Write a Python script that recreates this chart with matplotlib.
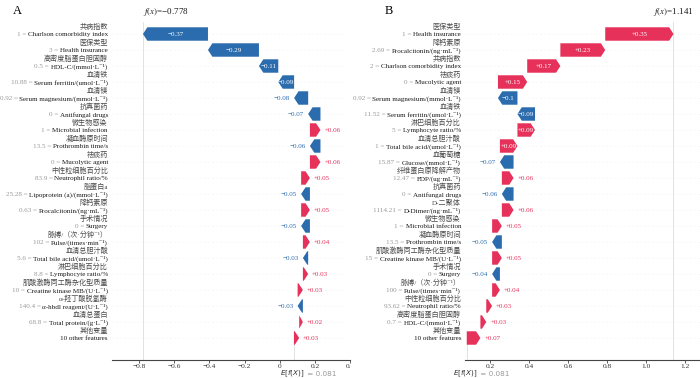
import matplotlib
matplotlib.use("Agg")
import matplotlib.pyplot as plt
from matplotlib.transforms import Bbox, TransformedBbox

# expected value shared by both panels
base_value = 0.081

# panel A (top row first)
a_cn = ["共病指数", "医保类型", "高密度脂蛋白胆固醇", "血清铁", "血清镁", "抗真菌药",
        "微生物感染", "凝血酶原时间", "祛痰药", "中性粒细胞百分比", "脂蛋白a", "降钙素原",
        "手术情况", "脉搏/（次·分钟⁻¹）", "血清总胆汁酸", "淋巴细胞百分比",
        "肌酸激酶同工酶杂化型质量", "α-羟丁酸脱氢酶", "血清总蛋白", "其他变量"]
a_en = ["Charlson comorbidity index", "Health insurance", "HDL-C/(mmol·L⁻¹)",
        "Serum ferritin/(umol·L⁻¹)", "Serum magnesium/(mmol·L⁻¹)", "Antifungal drugs",
        "Microbial infection", "Prothrombin time/s", "Mucolytic agent", "Neutrophil ratio/%",
        "Lipoprotein (a)/(mmol·L⁻¹)", "Procalcitonin/(ng·mL⁻¹)", "Surgery",
        "Pulse/(times·min⁻¹)", "Total bile acid/(umol·L⁻¹)", "Lymphocyte ratio/%",
        "Creatine kinase MB/(U·L⁻¹)", "α-hbdl reagent/(U·L⁻¹)", "Total protein/(g·L⁻¹)",
        "10 other features"]
a_feat = ["1", "3", "0.5", "10.88", "0.92", "0", "1", "13.5", "0", "83.9", "25.28", "0.63",
          "0", "102", "5.6", "8.8", "10", "140.4", "68.8", ""]
a_shap = [-0.37, -0.29, -0.11, -0.09, -0.08, -0.07, 0.06, -0.06, 0.06, 0.05, -0.05, 0.05,
          -0.05, 0.04, -0.03, 0.03, 0.03, -0.03, 0.021, 0.03]
a_ticks = [-0.8, -0.6, -0.4, -0.2, 0, 0.2, 0.4]

# panel B (top row first)
b_cn = ["医保类型", "降钙素原", "共病指数", "祛痰药", "血清镁", "血清铁", "淋巴细胞百分比",
        "血清总胆汁酸", "血葡萄糖", "纤维蛋白原降解产物", "抗真菌药", "D-二聚体", "微生物感染",
        "凝血酶原时间", "肌酸激酶同工酶杂化型质量", "手术情况", "脉搏/（次·分钟⁻¹）",
        "中性粒细胞百分比", "高密度脂蛋白胆固醇", "其他变量"]
b_en = ["Health insurance", "Procalcitonin/(ng·mL⁻¹)", "Charlson comorbidity index",
        "Mucolytic agent", "Serum magnesium/(mmol·L⁻¹)", "Serum ferritin/(umol·L⁻¹)",
        "Lymphocyte ratio/%", "Total bile acid/(umol·L⁻¹)", "Glucose/(mmol·L⁻¹)",
        "FDP/(ug·mL⁻¹)", "Antifungal drugs", "D-Dimer/(ng·mL⁻¹)", "Microbial infection",
        "Prothrombin time/s", "Creatine kinase MB/(U·L⁻¹)", "Surgery", "Pulse/(times·min⁻¹)",
        "Neutrophil ratio/%", "HDL-C/(mmol·L⁻¹)", "10 other features"]
b_feat = ["1", "2.69", "2", "0", "0.92", "11.52", "5", "1", "15.87", "12.47", "0", "1114.21",
          "1", "13.5", "15", "0", "100", "93.62", "0.7", ""]
b_shap = [0.35, 0.23, 0.17, 0.15, -0.10, -0.09, 0.09, 0.09, -0.07, 0.06, -0.06, 0.06, 0.05,
          -0.05, 0.05, -0.04, 0.04, 0.03, 0.03, 0.07]
b_ticks = [0.2, 0.4, 0.6, 0.8, 1.0, 1.2]

RED = "#e6325a"
BLUE = "#2b6cae"
serif = ["Liberation Serif", "DejaVu Serif", "Noto Sans CJK SC"]
plt.rcParams["font.family"] = serif
plt.rcParams["mathtext.fontset"] = "stix"
LAB_FS = 5.1


def fmt(v):
    s = "%+.2f" % v
    s = s.rstrip("0").rstrip(".")
    return s.replace("-", "\u2212")


def tick_text(t):
    if t == 0:
        return "0"
    return ("%.1f" % t).replace("-", "\u2212")


def waterfall(ax, cn, en, feat, shap, xlim, ticks, hl, fx_ha):
    n = len(shap)
    # cumulative starting positions, built from the bottom row up
    lefts = [0.0] * n
    cur = base_value
    for i in range(n - 1, -1, -1):
        lefts[i] = cur
        cur += shap[i]
    fx = cur

    ax.set_xlim(*xlim)
    ax.set_ylim(n + 0.375, -0.75)

    for i in range(n):
        ax.axhline(i, color="#e4e4e4", lw=0.5, dashes=(1, 5), zorder=0)

    ax.axvline(fx, color="#e2e2e2", lw=0.7, zorder=0)
    ax.plot([base_value, base_value], [n - 1, n + 0.375], color="#e2e2e2", lw=0.7, zorder=0)

    names = []
    for i in range(n):
        v = shap[i]
        x0 = lefts[i]
        col = RED if v > 0 else BLUE
        sgn = 1 if v > 0 else -1
        h = min(abs(v), hl)
        body = max(abs(v) - h, 1e-6)
        ax.arrow(x0, i, sgn * body, 0, width=0.84, head_width=0.84, head_length=h,
                 color=col, lw=0, zorder=3)
        if abs(v) >= 0.085:
            ax.text(x0 + v / 2, i, fmt(v), color="white", fontsize=5, ha="center",
                    va="center", zorder=4)
        else:
            ax.annotate(fmt(v), xy=(x0 + v, i), xytext=(4 * sgn, 0), textcoords="offset pixels",
                        color=col, fontsize=5, ha="left" if v > 0 else "right",
                        va="center", zorder=4)

        # two line feature labels on the left
        yx = ("axes fraction", "data")
        t = ax.annotate(en[i], xy=(0, i + 0.06), xycoords=yx, xytext=(-4, 0),
                        textcoords="offset pixels", ha="right", va="center", fontsize=LAB_FS,
                        color="#1a1a1a", annotation_clip=False)
        names.append(t)
        ax.annotate(cn[i], xy=(0, i - 0.47), xycoords=yx, xytext=(-4, 0),
                    textcoords="offset pixels", ha="right", va="center", fontsize=LAB_FS,
                    color="#4a4a4a", annotation_clip=False)

    # f(x) on top, E[f(X)] below the axis
    ax.annotate("$f(x)$=" + ("%.3f" % fx).replace("-", "\u2212"), xy=(fx, 0.968),
                xycoords=("data", "figure fraction"), ha=fx_ha, va="center", fontsize=6.5,
                color="#1a1a1a", annotation_clip=False)
    ax.annotate("$E[f(X)]$", xy=(base_value, 0.0115), xycoords=("data", "figure fraction"),
                xytext=(11, 0), textcoords="offset pixels", ha="right", va="center",
                fontsize=5.2, color="#333333", math_fontfamily="dejavusans",
                annotation_clip=False)
    ax.annotate(" = %.3f" % base_value, xy=(base_value, 0.0115),
                xycoords=("data", "figure fraction"), xytext=(11, 0),
                textcoords="offset pixels", ha="left", va="center", fontsize=5.2,
                color="#999999", family="DejaVu Sans", annotation_clip=False)

    ax.set_xticks(ticks)
    ax.set_xticklabels([tick_text(t) for t in ticks])
    ax.set_yticks([])
    for s in ["left", "right", "top"]:
        ax.spines[s].set_visible(False)
    ax.spines["bottom"].set_color("#444444")
    ax.spines["bottom"].set_linewidth(0.8)
    ax.tick_params(axis="x", labelsize=5.3, length=2.3, width=0.6, pad=0.5,
                   color="#444444", labelcolor="#333333")
    ax.patch.set_alpha(0)
    return names


fig = plt.figure(figsize=(7, 3.78), dpi=100)
bottom = 18 / 378
height = 338 / 378
ax_a = fig.add_axes([112 / 700, bottom, 238 / 700, height])
ax_b = fig.add_axes([465 / 700, bottom, 235 / 700, height])

names_a = waterfall(ax_a, a_cn, a_en, a_feat, a_shap, (-0.954, 0.4), a_ticks, 0.025, "left")
names_b = waterfall(ax_b, b_cn, b_en, b_feat, b_shap, (0.072, 1.277), b_ticks, 0.022, "center")

# grey "value = " placed just left of each feature name
fig.canvas.draw()
renderer = fig.canvas.get_renderer()
for names, feats in [(names_a, a_feat), (names_b, b_feat)]:
    for t, fv in zip(names, feats):
        if not fv:
            continue
        bb = t.get_window_extent(renderer)
        fig.text(bb.x0, (bb.y0 + bb.y1) / 2, fv + " = ", transform=None, ha="right",
                 va="center", fontsize=LAB_FS, color="#999999")

# panel A was cut at the middle of the figure
clip = TransformedBbox(Bbox([[0, 0], [0.5, 1]]), fig.transFigure)
for lab in ax_a.get_xticklabels():
    lab.set_clip_box(clip)
    lab.set_clip_on(True)

fig.text(13 / 700, 1 - 11 / 378, "A", fontsize=9, ha="left", va="center")
fig.text(385 / 700, 1 - 11 / 378, "B", fontsize=9, ha="left", va="center")

fig.savefig("out.png", dpi=100)
